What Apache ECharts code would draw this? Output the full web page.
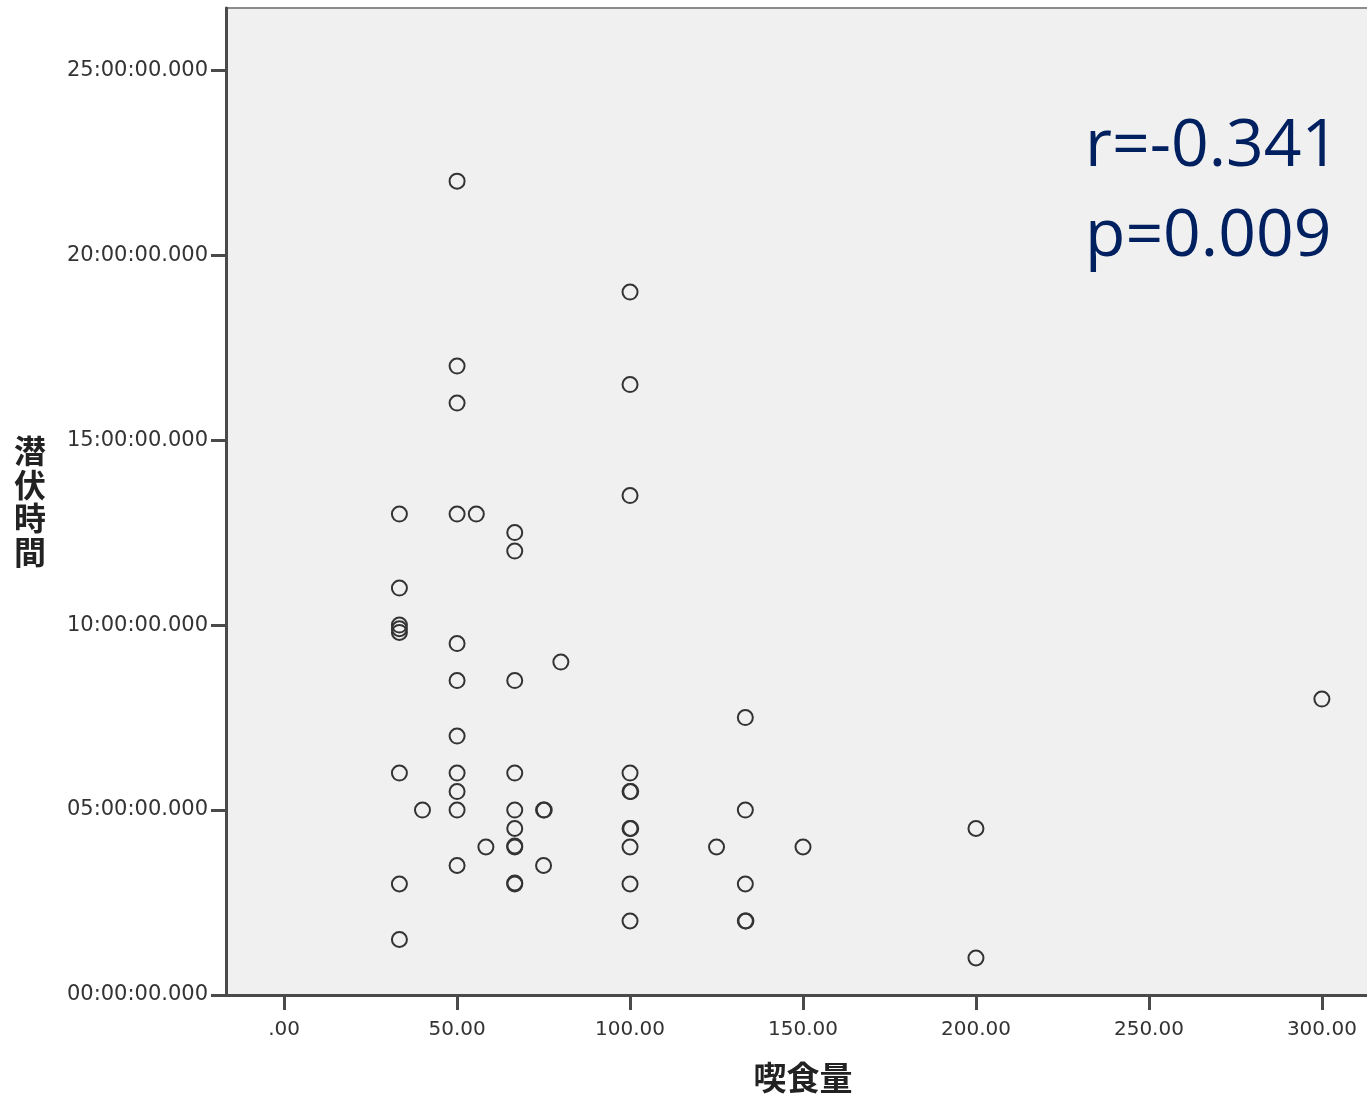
<!DOCTYPE html>
<html><head><meta charset="utf-8">
<script src="https://cdn.jsdelivr.net/npm/echarts@6/dist/echarts.min.js"></script>
<style>html,body{margin:0;padding:0;background:#fff}#c{width:1367px;height:1096px}</style>
</head><body><div id="c"></div>
<script>
// x: 喫食量, y: 潜伏時間 (hours)
const xValues = [33.33,33.33,33.33,33.33,33.33,33.33,33.33,33.33,
  40,
  50,50,50,50,50,50,50,50,50,50,50,
  55.56, 58.33,
  66.67,66.67,66.67,66.67,66.67,66.67,66.67,66.67,66.67,66.67,
  75,75.2,75,
  80,
  100,100,100,100,100,100.2,100,100.2,100,100,100,
  125,
  133.33,133.33,133.33,133.33,133.5,
  150,
  200,200,
  300];
const yHours = [13,11,10,9.9,9.8,6,3,1.5,
  5,
  22,17,16,13,9.5,8.5,7,6,5.5,5,3.5,
  13, 4,
  12.5,12,8.5,6,5,4.5,4,4.03,3,3.03,
  5,5,3.5,
  9,
  19,16.5,13.5,6,5.5,5.5,4.5,4.5,4,3,2,
  4,
  7.5,5,3,2,2,
  4,
  4.5,1,
  8];
const xTicks = [0,50,100,150,200,250,300];
const yTicks = [0,5,10,15,20,25];
const xName = '喫食量';
const yName = '潜伏時間';
const statLines = ['r=-0.341','p=0.009'];

const pts = xValues.map((x,i)=>[x,yHours[i]]);
const chart = echarts.init(document.getElementById('c'));
const lab = {fontFamily:'DejaVu Sans', color:'#333'};
chart.setOption({
  animation:false,
  grid:{left:226, top:8, width:1154, bottom:101, outerBoundsMode:'none', containLabel:false,
    show:true, backgroundColor:'#f0f0f0', borderColor:'#8c8c8c', borderWidth:2},
  xAxis:{type:'value', min:-16.8, max:316.8,
    name:xName, nameLocation:'middle', nameGap:66,
    nameTextStyle:{fontFamily:'Noto Sans CJK JP', fontSize:33, fontWeight:'bold', color:'#222'},
    axisLine:{onZero:false, lineStyle:{color:'#4a4a4a', width:3}},
    axisTick:{length:15, lineStyle:{color:'#4a4a4a', width:3}, customValues:xTicks},
    axisLabel:Object.assign({margin:25, fontSize:20, customValues:xTicks, formatter:v=>v===0?'.00':v.toFixed(2)}, lab),
    splitLine:{show:false}},
  yAxis:{type:'value', min:0, max:26.68,
    name:yName.split('').join('\n'), nameLocation:'middle', nameGap:180, nameRotate:0,
    nameTextStyle:{fontFamily:'Noto Sans CJK JP', fontSize:32, fontWeight:'bold', color:'#222', lineHeight:33.5, align:'right'},
    axisLine:{onZero:false, lineStyle:{color:'#4a4a4a', width:3}},
    axisTick:{length:15, lineStyle:{color:'#4a4a4a', width:3}, customValues:yTicks},
    axisLabel:Object.assign({margin:18, fontSize:21, customValues:yTicks, formatter:v=>String(Math.round(v)).padStart(2,'0')+':00:00.000'}, lab),
    splitLine:{show:false}},
  series:[{type:'scatter', data:pts, symbol:'circle', symbolSize:15,
    itemStyle:{color:'rgba(0,0,0,0)', borderColor:'#333', borderWidth:2, opacity:1},
    emphasis:{disabled:true}}],
  graphic:[
    {type:'text', left:1085, top:114, style:{text:statLines[0], font:'66px "Open Sans"', fill:'#002060'}},
    {type:'text', left:1085, top:204, style:{text:statLines[1], font:'66px "Open Sans"', fill:'#002060'}}
  ]
});
</script></body></html>
